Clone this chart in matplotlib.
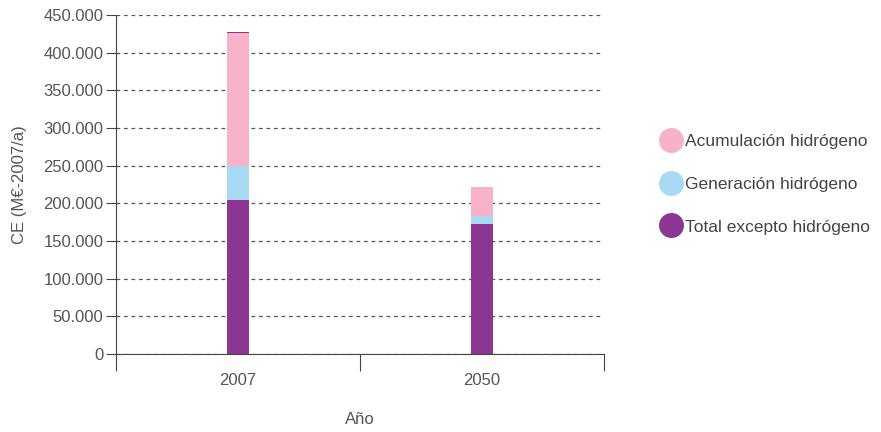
import matplotlib
matplotlib.use("Agg")
import matplotlib.pyplot as plt
import numpy as np
from matplotlib.lines import Line2D
from matplotlib.ticker import FuncFormatter

years = ["2007", "2050"]
total_excepto = [204500, 172500]
generacion = [45000, 10700]
acumulacion = [176000, 38500]
remate = [1500, 0]  # thin top line on the 2007 bar

series_labels = ["Acumulación hidrógeno", "Generación hidrógeno", "Total excepto hidrógeno"]
yticks = np.arange(0, 450001, 50000)

C_PINK = "#f7b2c8"
C_BLUE = "#a8d9f3"
C_PURPLE = "#8c3693"
C_TEXT = "#555555"

plt.rcParams["font.family"] = ["Liberation Sans", "DejaVu Sans"]

fig = plt.figure(figsize=(8.81, 4.32), dpi=100)
ax = fig.add_axes([116 / 881, 78 / 432, 488 / 881, 339 / 432])

x = np.arange(len(years)) + 0.5
w = 0.09
b1 = np.array(total_excepto, dtype=float)
b2 = b1 + np.array(generacion)
b3 = b2 + np.array(acumulacion)

ax.bar(x, total_excepto, width=w, color=C_PURPLE, zorder=3)
ax.bar(x, generacion, width=w, bottom=b1, color=C_BLUE, zorder=3)
ax.bar(x, acumulacion, width=w, bottom=b2, color=C_PINK, zorder=3)
ax.bar(x, remate, width=w, bottom=b3, color=C_PURPLE, zorder=3)

ax.set_xlim(0, len(years))
ax.set_ylim(0, 450000)
ax.set_yticks(yticks)
ax.yaxis.set_major_formatter(FuncFormatter(lambda v, p: f"{int(v):,}".replace(",", ".")))
ax.set_xticks(np.arange(len(years) + 1))
ax.set_xticklabels([])
ax.set_xticks(x, minor=True)
ax.set_xticklabels(years, minor=True)
ax.tick_params(axis="x", which="major", length=12, direction="out", color="#444444")
ax.tick_params(axis="x", which="minor", length=0, pad=14, labelsize=12, labelcolor=C_TEXT)
ax.tick_params(axis="y", length=7, color="#444444", labelsize=12, labelcolor=C_TEXT, pad=2)

ax.grid(axis="y", linestyle=(0, (3, 3)), color="#555555", linewidth=0.9, zorder=1)
for s in ["top", "right"]:
    ax.spines[s].set_visible(False)
ax.spines["left"].set_color("#444444")
ax.spines["bottom"].set_color("#444444")

ax.set_ylabel("CE (M€-2007/a)", fontsize=12, color=C_TEXT, labelpad=12)
ax.set_xlabel("Año", fontsize=12, color=C_TEXT, labelpad=17)

handles = [Line2D([0], [0], marker="o", linestyle="", markersize=17, color=c)
           for c in [C_PINK, C_BLUE, C_PURPLE]]
leg = fig.legend(handles, series_labels, loc="center left",
                 bbox_to_anchor=(645 / 881, 1 - 184 / 432), frameon=False,
                 fontsize=12.5, labelspacing=1.6, handletextpad=0.2,
                 handlelength=1.2)
for t in leg.get_texts():
    t.set_color("#444444")

fig.savefig("out.png", dpi=100)
